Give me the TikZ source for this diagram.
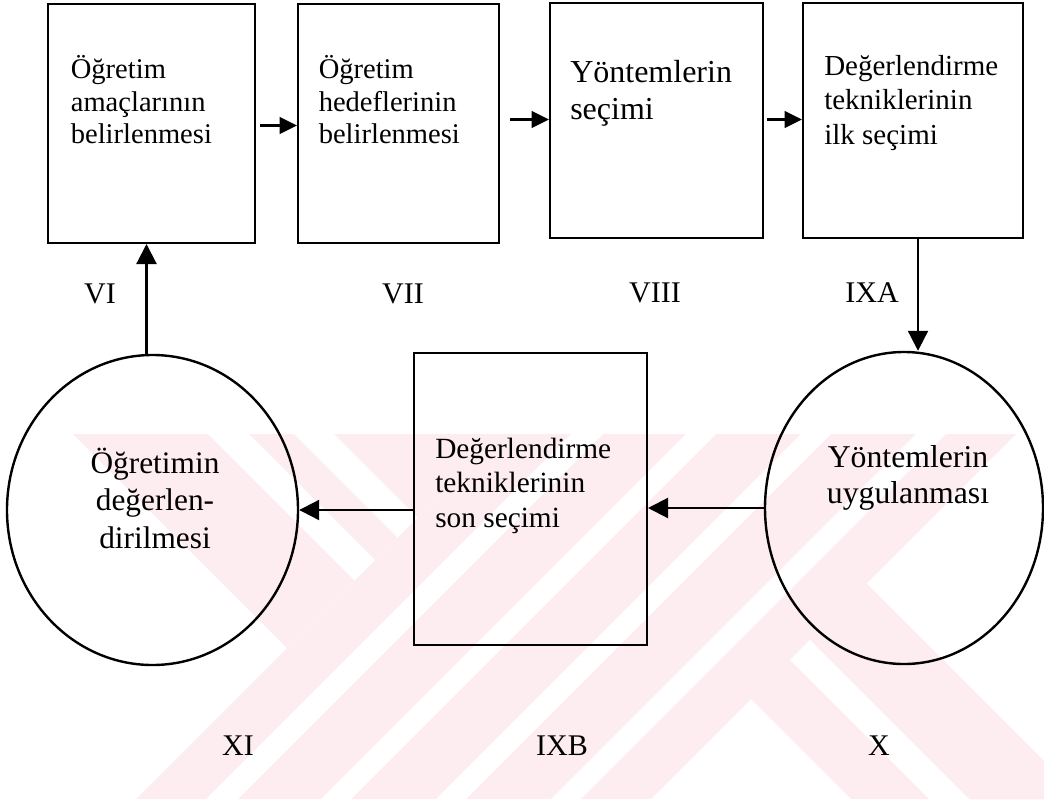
\documentclass[tikz,border=0pt]{standalone}
\usepackage{fontspec}
\setmainfont{Liberation Serif}
\usetikzlibrary{arrows.meta,calc,shapes.geometric}

\definecolor{wmpink}{RGB}{253,236,240}
% strut that fixes the height of a first text line
\newcommand\capstrut{\rule{0pt}{1em}}

\begin{document}
\begin{tikzpicture}[
    x=0.75pt, y=-0.75pt,
    box/.style={draw, rectangle, line width=1.5pt, inner sep=0pt},
    oval/.style={draw, ellipse, line width=1.8pt, inner sep=0pt},
    txt/.style={inner sep=0pt, align=left, anchor=north west},
    ctxt/.style={inner sep=0pt, align=center, anchor=north},
    lab/.style={inner sep=0pt, anchor=base, font=\fontsize{22.5}{27}\selectfont},
    arr/.style={line width=1.6pt, -{Triangle[length=13pt,width=12.5pt]}},
    arrb/.style={line width=1.6pt, -{Triangle[length=15pt,width=15pt]}},
    wm/.style={fill=wmpink, draw=none},
    gap/.style={fill=white, draw=none}
  ]
  \useasboundingbox (0,0) rectangle (1044,799);

  % background emblem: three striped arms
  \begin{scope}
    \clip (0,0) rectangle (1044,799);
    \fill[wm] (73,434) -- (501,434) -- (287,648) -- cycle;
    \fill[wm] (501,434) -- (1016,434) -- (651,799) -- (136,799) -- cycle;
    \fill[wm] (751,699) -- (866.5,583.5) -- (1082.5,799.5) -- (851,799) -- cycle;
    % gaps in the left arm
    \fill[gap] (208,434) -- (249,434) -- (375,560) -- (354.5,580.5) -- cycle;
    \fill[gap] (294,434) -- (334,434) -- (417.5,517.5) -- (397.5,537.5) -- cycle;
    % gaps in the middle arm
    \fill[gap] (571,434) -- (603,434) -- (238,799) -- (206,799) -- cycle;
    \fill[gap] (686,434) -- (716,434) -- (351,799) -- (321,799) -- cycle;
    \fill[gap] (801,434) -- (831,434) -- (466,799) -- (436,799) -- cycle;
    \fill[gap] (916,434) -- (946,434) -- (581,799) -- (551,799) -- cycle;
    % gap in the right arm
    \fill[gap] (790,660) -- (810,640) -- (970,800) -- (930,800) -- cycle;
  \end{scope}

  % boxes of the upper row
  \node[box, minimum width=155.25pt, minimum height=179.25pt] (b1) at (151.5,123.5) {};
  \node[box, minimum width=150.75pt, minimum height=179.25pt] (b2) at (398.5,123.5) {};
  \node[box, minimum width=159.75pt, minimum height=176.25pt] (b3) at (656.5,120.5) {};
  \node[box, minimum width=165pt,    minimum height=176.25pt] (b4) at (913,120.5) {};
  % lower row
  \node[box, minimum width=174.75pt, minimum height=219pt] (b5) at (530.5,499) {};
  \node[oval, minimum width=218.25pt, minimum height=232.5pt] (eXI) at (152.5,510) {};
  \node[oval, minimum width=208.5pt, minimum height=234pt] (eX) at (904,508) {};

  % texts
  \node[txt, font=\fontsize{21.4}{24.6}\selectfont] (t1) at (70.6,49.5)
    {\capstrut Öğretim\\amaçlarının\\belirlenmesi};
  \node[txt, font=\fontsize{21.4}{24.6}\selectfont] (t2) at (318.5,49.5)
    {\capstrut Öğretim\\hedeflerinin\\belirlenmesi};
  \node[txt, font=\fontsize{24}{27.75}\selectfont] (t3) at (570,50)
    {\capstrut Yöntemlerin\\seçimi};
  \node[txt, font=\fontsize{21.75}{25.9}\selectfont] (t4) at (824,46)
    {\capstrut Değerlendirme\\tekniklerinin\\ilk seçimi};
  \node[txt, font=\fontsize{22}{25.9}\selectfont] (t5) at (435,428.7)
    {\capstrut Değerlendirme\\tekniklerinin\\son seçimi};
  \node[ctxt, font=\fontsize{23.5}{28.1}\selectfont] (tXI) at (155,441.7)
    {\capstrut Öğretimin\\değerlen-\\dirilmesi};
  \node[ctxt, font=\fontsize{23.8}{27}\selectfont] (tX) at (908,435.3)
    {\capstrut Yöntemlerin\\uygulanması};

  % stage numbers
  \node[lab] (lVI)   at (100,303) {VI};
  \node[lab] (lVII)  at (403,303) {VII};
  \node[lab] (lVIII) at (655,302) {VIII};
  \node[lab] (lIXA)  at (872,302) {IXA};
  \node[lab] (lXI)   at (238,755) {XI};
  \node[lab] (lIXB)  at (562,755) {IXB};
  \node[lab] (lX)    at (879,755) {X};

  % connector end points
  \coordinate (upfoot) at ($(eXI.north)+(-6,0)$);
  \coordinate (downtop) at ($(b4.south)+(5,0)$);

  % connectors
  \draw[arr] ($(b1.east)+(4,2)$) -- ($(b2.west)+(0,2)$);
  \draw[arr] ($(b2.east |- b3.west)+(10,-1)$) -- ($(b3.west)+(0,-1)$);
  \draw[arr] ($(b3.east)+(3,-1)$) -- ($(b4.west)+(0,-1)$);
  \draw[arrb] (downtop) -- (downtop |- eX.north);
  \draw[arrb] (eX.west) -- (eX.west -| b5.east);
  \draw[arrb] (b5.west |- eXI.east) -- (eXI.east);
  \draw[arrb] (upfoot) -- (upfoot |- b1.south);
\end{tikzpicture}
\end{document}
